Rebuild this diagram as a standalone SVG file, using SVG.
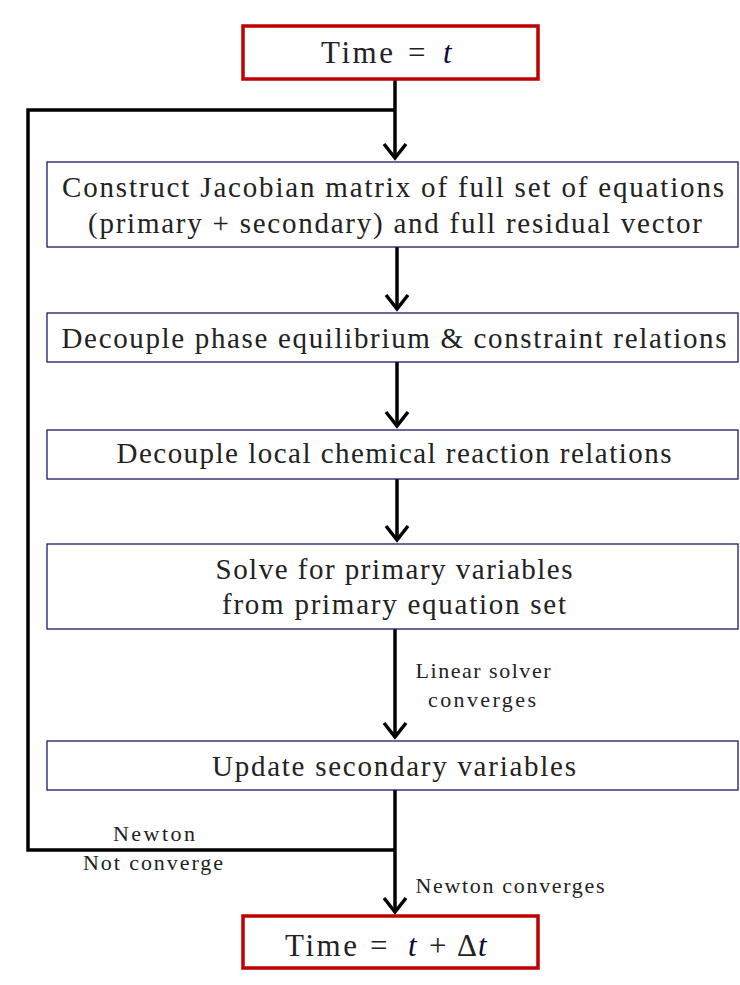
<svg xmlns="http://www.w3.org/2000/svg" width="740" height="985" viewBox="0 0 740 985">
<style>
.red{fill:#fff;stroke:#c00000;stroke-width:3.5}
.box{fill:#fff;stroke:#1a1a66;stroke-width:1.3}
.t{font-family:"Liberation Serif","DejaVu Serif",serif;fill:#222;text-anchor:middle}
.s{text-anchor:start}
.big{font-size:31px}
.mid{font-size:29px}
.sm{font-size:22px}
.ln{fill:none;stroke:#000;stroke-width:3.5}
.hd{fill:none;stroke:#000;stroke-width:3.5;stroke-linejoin:miter}
.m{font-style:italic;fill:#0a0a3a}
</style>
<rect width="740" height="985" fill="#fff"/>
<g id="connectors">
<path class="ln" d="M395,79 V158"/>
<path class="ln" d="M395,110 H28 V850 H395"/>
<path class="ln" d="M397,247 V309"/>
<path class="ln" d="M397,362 V426"/>
<path class="ln" d="M397,479 V540"/>
<path class="ln" d="M395,629 V737"/>
<path class="ln" d="M395,790 V912"/>
<polyline class="hd" points="384,144 395,158 406,144"/>
<polyline class="hd" points="386,295 397,309 408,295"/>
<polyline class="hd" points="386,412 397,426 408,412"/>
<polyline class="hd" points="386,526 397,540 408,526"/>
<polyline class="hd" points="384,723 395,737 406,723"/>
<polyline class="hd" points="384,898 395,912 406,898"/>
<text class="t sm" x="483" y="678" textLength="135">Linear solver</text>
<text class="t sm" x="482" y="707" textLength="108">converges</text>
<text class="t sm" x="154" y="841" textLength="82">Newton</text>
<text class="t sm" x="153" y="870" textLength="140">Not converge</text>
<text class="t sm" x="510" y="893" textLength="189">Newton converges</text>
</g>
<g id="start">
<rect class="red" x="243" y="26" width="295" height="53"/>
<text class="t big s" y="63"><tspan x="321" textLength="72">Time</tspan><tspan x="408">=</tspan><tspan class="m" x="443">t</tspan></text>
</g>
<g id="jacobian">
<rect class="box" x="47" y="162" width="691" height="85"/>
<text class="t mid" x="393" y="197" textLength="662">Construct Jacobian matrix of full set of equations</text>
<text class="t mid" x="395" y="233" textLength="614">(primary + secondary) and full residual vector</text>
</g>
<g id="decouple-phase">
<rect class="box" x="47" y="313" width="691" height="49"/>
<text class="t mid" x="394" y="348" textLength="665">Decouple phase equilibrium &amp; constraint relations</text>
</g>
<g id="decouple-local">
<rect class="box" x="47" y="430" width="691" height="49"/>
<text class="t mid" x="394" y="463" textLength="555">Decouple local chemical reaction relations</text>
</g>
<g id="solve">
<rect class="box" x="47" y="544" width="691" height="85"/>
<text class="t mid" x="394" y="579" textLength="357">Solve for primary variables</text>
<text class="t mid" x="394" y="614" textLength="344">from primary equation set</text>
</g>
<g id="update">
<rect class="box" x="47" y="741" width="691" height="49"/>
<text class="t mid" x="394" y="776" textLength="364">Update secondary variables</text>
</g>
<g id="end">
<rect class="red" x="243" y="916" width="295" height="52"/>
<text class="t big s" y="956"><tspan x="285" textLength="72">Time</tspan><tspan x="370">=</tspan><tspan class="m" x="408">t</tspan><tspan x="429">+</tspan><tspan x="457">Δ</tspan><tspan class="m" x="478">t</tspan></text>
</g>
</svg>
